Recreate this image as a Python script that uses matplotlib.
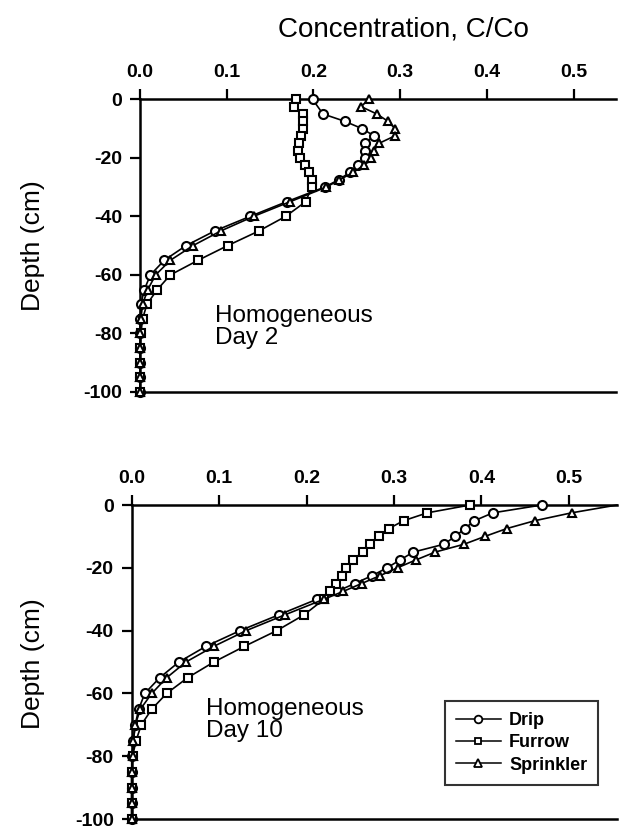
import matplotlib
matplotlib.use("Agg")
import matplotlib.pyplot as plt
from matplotlib.lines import Line2D

plt.rcParams['font.family'] = ['Liberation Sans', 'DejaVu Sans']

# ---------------- data ----------------
# Day 2
depth_drip2 = [0, -5, -7.5, -10, -12.5, -15, -17.5, -20, -22.5, -25, -27.5, -30,
               -35, -40, -45, -50, -55, -60, -65, -70, -75, -80, -85, -90, -95, -100]
drip2 = [0.199, 0.211, 0.236, 0.256, 0.270, 0.259, 0.259, 0.260, 0.252, 0.242, 0.229, 0.213,
         0.169, 0.127, 0.086, 0.053, 0.028, 0.012, 0.005, 0.001, 0, 0, 0, 0, 0, 0]

depth_fine = [0, -2.5, -5, -7.5, -10, -12.5, -15, -17.5, -20, -22.5, -25, -27.5, -30,
              -35, -40, -45, -50, -55, -60, -65, -70, -75, -80, -85, -90, -95, -100]
furrow2 = [0.180, 0.178, 0.188, 0.188, 0.188, 0.186, 0.183, 0.182, 0.185, 0.190, 0.195, 0.198, 0.198,
           0.191, 0.168, 0.137, 0.101, 0.067, 0.035, 0.020, 0.008, 0.003, 0.001, 0, 0, 0, 0]
sprink2 = [0.264, 0.255, 0.273, 0.286, 0.294, 0.294, 0.276, 0.270, 0.266, 0.258, 0.246, 0.230, 0.215,
           0.173, 0.131, 0.093, 0.061, 0.035, 0.018, 0.009, 0.003, 0.001, 0, 0, 0, 0, 0]

# Day 10
drip10 = [0.469, 0.413, 0.392, 0.381, 0.370, 0.357, 0.322, 0.307, 0.292, 0.275, 0.255, 0.235, 0.212,
          0.168, 0.124, 0.085, 0.054, 0.032, 0.015, 0.008, 0.004, 0.002, 0, 0, 0, 0, 0]
furrow10 = [0.387, 0.338, 0.311, 0.294, 0.283, 0.272, 0.264, 0.253, 0.245, 0.240, 0.234, 0.227, 0.220,
            0.197, 0.166, 0.129, 0.094, 0.064, 0.040, 0.023, 0.011, 0.005, 0.001, 0, 0, 0, 0]
sprink10 = [0.555, 0.503, 0.461, 0.429, 0.404, 0.380, 0.347, 0.325, 0.304, 0.284, 0.263, 0.242, 0.220,
            0.175, 0.131, 0.094, 0.062, 0.040, 0.023, 0.010, 0.004, 0.002, 0.001, 0, 0, 0, 0]

x_ticks = [0.0, 0.1, 0.2, 0.3, 0.4, 0.5]
x_ticklabels = ['0.0', '0.1', '0.2', '0.3', '0.4', '0.5']
y_ticks = [0, -20, -40, -60, -80, -100]
y_ticklabels = ['0', '-20', '-40', '-60', '-80', '-100']
series_names = ['Drip', 'Furrow', 'Sprinkler']

# ---------------- figure ----------------
W, H = 626, 831
fig = plt.figure(figsize=(W / 100, H / 100), dpi=100)

def px_axes(l, r, t, b):
    return [l / W, 1 - b / H, (r - l) / W, (b - t) / H]

ax1 = fig.add_axes(px_axes(140, 616, 99.3, 392))
ax2 = fig.add_axes(px_axes(131.7, 617, 505, 819))

line_kw = dict(color='black', lw=1.2, mfc='white', mec='black', mew=1.5, clip_on=False)

def style(ax, xmax):
    ax.set_xlim(0, xmax)
    ax.set_ylim(-100, 0)
    ax.xaxis.tick_top()
    ax.set_xticks(x_ticks)
    ax.set_xticklabels(x_ticklabels, fontsize=14, fontweight='bold')
    ax.set_yticks(y_ticks)
    ax.set_yticklabels(y_ticklabels, fontsize=14, fontweight='bold')
    ax.spines['right'].set_visible(False)
    for s in ['left', 'top', 'bottom']:
        ax.spines[s].set_linewidth(1.8)
        ax.spines[s].set_zorder(0.5)
    ax.tick_params(axis='x', direction='out', length=7, width=1.6, pad=6)
    ax.tick_params(axis='y', direction='out', length=7, width=1.6, pad=6)

# Day 2
ax1.plot(drip2, depth_drip2, marker='o', ms=6.5, **line_kw)
ax1.plot(furrow2, depth_fine, marker='s', ms=5.8, **line_kw)
ax1.plot(sprink2, depth_fine, marker='^', ms=6.3, **line_kw)
style(ax1, 0.549)
ax1.text(0.086, -70.2, 'Homogeneous\nDay 2', fontsize=17.5, va='top', ha='left', linespacing=1.0)

# Day 10
ax2.plot(drip10, depth_fine, marker='o', ms=6.5, **line_kw)
ax2.plot(furrow10, depth_fine, marker='s', ms=5.8, **line_kw)
ax2.plot(sprink10, depth_fine, marker='^', ms=6.3, markevery=list(range(1, len(depth_fine))), **line_kw)
style(ax2, 0.555)
ax2.text(0.085, -61.5, 'Homogeneous\nDay 10', fontsize=17.5, va='top', ha='left', linespacing=1.0)

# Legend
handles = [Line2D([], [], color='black', lw=1.1, marker=m, ms=ms, mfc='white', mec='black', mew=1.3)
           for m, ms in [('o', 5.5), ('s', 5), ('^', 5.5)]]
leg = fig.legend(handles, series_names, loc='upper left', bbox_to_anchor=(445 / W, 1 - 701 / H),
                 bbox_transform=fig.transFigure, prop=dict(size=13, weight='bold'),
                 frameon=True, fancybox=False, edgecolor='black', handlelength=2.5,
                 handletextpad=0.45, labelspacing=0.3, borderpad=0.6, borderaxespad=0)
leg.get_frame().set_linewidth(1.5)

# Titles / labels
fig.text(403 / W, 1 - 30 / H, 'Concentration, C/Co', fontsize=20, ha='center', va='center')
fig.text(33 / W, 1 - 246 / H, 'Depth (cm)', fontsize=19, rotation=90, ha='center', va='center')
fig.text(33 / W, 1 - 664 / H, 'Depth (cm)', fontsize=19, rotation=90, ha='center', va='center')

fig.savefig('out.png', dpi=100)
